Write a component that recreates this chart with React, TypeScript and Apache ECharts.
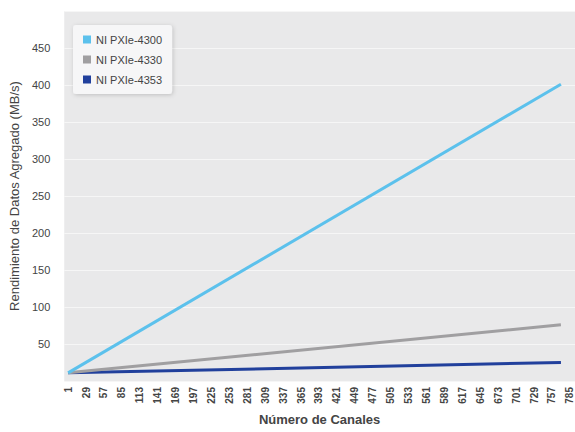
import React, { useEffect, useRef } from "react";
import * as echarts from "echarts";

const xTicks = [1, 29, 57, 85, 113, 141, 169, 197, 225, 253, 281, 309, 337, 365, 393, 421, 449, 477, 505, 533, 561, 589, 617, 645, 673, 701, 729, 757, 785];
const seriesNames = ["NI PXIe-4300", "NI PXIe-4330", "NI PXIe-4353"];
const channels = [1, 771];
const pxie4300 = [11, 401];
const pxie4330 = [11, 76];
const pxie4353 = [11, 25];
const colors = ["#5cc1ec", "#a09fa1", "#21409c"];

const FONT = "'Liberation Sans Narrow', 'Liberation Sans', Arial, sans-serif";

export default function App() {
  const ref = useRef<HTMLDivElement>(null);
  useEffect(() => {
    if (!ref.current) return;
    const chart = echarts.init(ref.current, null, { renderer: "svg" });
    const values = [pxie4300, pxie4330, pxie4353];
    chart.setOption({
      animation: false,
      backgroundColor: "#ffffff",
      textStyle: { fontFamily: FONT },
      grid: {
        left: 62,
        right: 0,
        top: 11,
        bottom: 51,
        show: true,
        backgroundColor: "#e9e9ea",
        borderWidth: 0,
      },
      legend: {
        orient: "vertical",
        left: 73,
        top: 25,
        padding: [9, 10, 9, 10],
        itemWidth: 8,
        itemHeight: 8,
        itemGap: 9,
        icon: "rect",
        backgroundColor: "#f6f6f7",
        borderRadius: 3,
        shadowColor: "rgba(0,0,0,0.18)",
        shadowBlur: 4,
        shadowOffsetX: 1,
        shadowOffsetY: 1,
        textStyle: { fontFamily: FONT, fontSize: 11, color: "#444" },
        data: seriesNames,
      },
      xAxis: {
        type: "value",
        min: -5,
        max: 793,
        name: "Número de Canales",
        nameLocation: "middle",
        nameGap: 32,
        nameTextStyle: { fontFamily: FONT, fontSize: 13, fontWeight: "bold", color: "#444" },
        axisLine: { show: false },
        axisTick: { show: false },
        splitLine: { show: false },
        axisLabel: {
          customValues: xTicks,
          rotate: 90,
          fontFamily: FONT,
          fontSize: 10,
          fontWeight: "bold",
          color: "#444",
          margin: 6,
        },
      },
      yAxis: {
        type: "value",
        min: 0,
        max: 500,
        interval: 50,
        name: "Rendimiento de Datos Agregado (MB/s)",
        nameLocation: "middle",
        nameGap: 40,
        nameTextStyle: { fontFamily: FONT, fontSize: 13, fontWeight: "normal", color: "#444" },
        axisLine: { show: false },
        axisTick: { show: false },
        splitLine: { lineStyle: { color: "#f6f6f6", width: 1 } },
        axisLabel: {
          fontFamily: FONT,
          fontSize: 11,
          color: "#444",
          margin: 14,
          formatter: (v: number) => (v === 0 || v === 500 ? "" : String(v)),
        },
      },
      series: seriesNames.map((name, i) => ({
        name,
        type: "line",
        data: channels.map((c, j) => [c, values[i][j]]),
        showSymbol: false,
        symbol: "none",
        lineStyle: { color: colors[i], width: 3 },
        itemStyle: { color: colors[i] },
        z: 3 - i,
      })),
    });
    return () => chart.dispose();
  }, []);
  return <div ref={ref} style={{ position: "fixed", left: 0, top: 0, width: 575, height: 432 }} />;
}
